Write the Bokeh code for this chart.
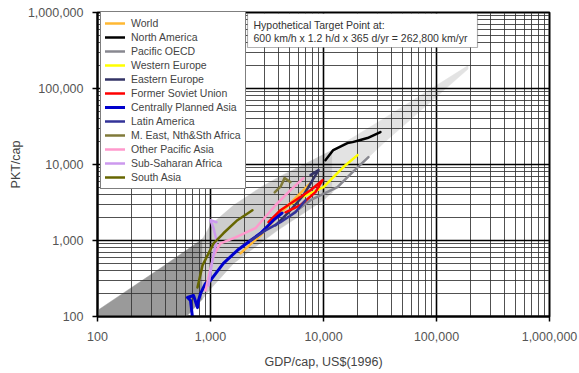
from bokeh.plotting import figure
from bokeh.models import (FixedTicker, NumeralTickFormatter, Legend, LegendItem,
                          BoxAnnotation, Label)
from bokeh.embed import file_html
from bokeh.resources import INLINE

# ---------------- data ----------------
decades = [100, 1000, 10000, 100000, 1000000]
minor_ticks = [m * d for d in decades[:-1] for m in range(2, 10)]

# shaded band (GDP/cap, upper PKT/cap, lower PKT/cap)
band_x = [100, 400, 850, 1000, 1600, 2770, 3920, 10000, 12000, 15000, 34000, 190000]
band_upper = [120, 480, 1050, 1600, 2900, 5000, 6700, 13500, 15500, 19000, 40000, 200000]
band_lower = [80, 50, 170, 230, 500, 925, 1360, 3390, 4300, 6100, 19100, 180000]
band_split = [850, 12000]
band_colors = ["#9a9a9a", "#cdcdcd", "#e3e3e3"]

series_names = ["World", "North America", "Pacific OECD", "Western Europe", "Eastern Europe",
                "Former Soviet Union", "Centrally Planned Asia", "Latin America",
                "M. East, Nth&Sth Africa", "Other Pacific Asia", "Sub-Saharan Africa", "South Asia"]
series_colors = ["#FFB833", "#000000", "#888890", "#FFFF00", "#333366", "#FF0000",
                 "#0000CC", "#333399", "#807A3A", "#FF99CC", "#CC99EE", "#666600"]

world_x = [1840, 2770, 4160, 5650, 7670]
world_y = [678, 1170, 2290, 3610, 5690]
nam_x = [10400, 12200, 16300, 18100, 21200, 24500, 31900]
nam_y = [11400, 15500, 19100, 19700, 21000, 22300, 26700]
poecd_x = [5100, 7670, 13300, 18100, 25000]
poecd_y = [2150, 3390, 5030, 7940, 12500]
weu_x = [3070, 4160, 6250, 10000, 15000, 20000]
weu_y = [1450, 2500, 3610, 5030, 9250, 13300]
eeu_x = [3760, 5100, 6650, 8000, 9040, 7670]
eeu_y = [1585, 2500, 3940, 6220, 8430, 7240]
fsu_x = [3260, 4160, 5650, 7670, 9800, 8490, 6250, 4610]
fsu_y = [1740, 2500, 3390, 4590, 6220, 4330, 2910, 2350]
cpa_x = [693, 665, 625, 708, 767, 783, 817, 903, 1000, 1300, 1730, 2260, 2770, 3610, 4300]
cpa_y = [97, 163, 178, 189, 131, 163, 201, 272, 298, 500, 743, 1000, 1245, 1850, 2300]
lam_x = [2260, 3070, 4160, 5650, 6930]
lam_y = [1000, 1360, 1740, 2350, 3390]
mea_x = [3700, 4200, 4520, 5100]
mea_y = [4300, 5200, 6620, 5860]
opa_x = [903, 1065, 1225, 1665, 2500, 3760, 5100, 6650]
opa_y = [220, 638, 918, 1100, 1450, 2910, 4590, 6620]
ssa_x = [960, 1040, 1130, 1065, 1000, 1130]
ssa_y = [256, 548, 1000, 1450, 1850, 1740]
sas_x = [767, 850, 1065, 1300, 1730, 2350]
sas_y = [241, 471, 918, 1245, 1850, 2500]

series_x = [world_x, nam_x, poecd_x, weu_x, eeu_x, fsu_x, cpa_x, lam_x, mea_x, opa_x, ssa_x, sas_x]
series_y = [world_y, nam_y, poecd_y, weu_y, eeu_y, fsu_y, cpa_y, lam_y, mea_y, opa_y, ssa_y, sas_y]
series_widths = [2.5, 2.5, 2.5, 2.5, 2.5, 2.5, 3, 2.5, 2.5, 2.5, 2.5, 2.5]

box_line1 = "Hypothetical Target Point at:"
box_line2 = "600 km/h x 1.2 h/d x 365 d/yr = 262,800 km/yr"

FONT = "Liberation Sans"

# ---------------- figure ----------------
p = figure(width=579, height=373, x_axis_type="log", y_axis_type="log",
           x_range=(100, 1000000), y_range=(100, 1000000),
           output_backend="svg", toolbar_location=None,
           min_border_left=97, min_border_right=30, min_border_top=12, min_border_bottom=57)
p.background_fill_color = "white"
p.border_fill_color = "white"
p.outline_line_color = "black"
p.outline_line_width = 2

xt = FixedTicker(ticks=decades, minor_ticks=minor_ticks)
yt = FixedTicker(ticks=decades, minor_ticks=minor_ticks)
p.xaxis.ticker = xt
p.yaxis.ticker = yt
p.xgrid.ticker = xt
p.ygrid.ticker = yt

for ax in (p.xaxis, p.yaxis):
    ax.formatter = NumeralTickFormatter(format="0,0")
    ax.axis_line_width = 2
    ax.axis_line_color = "black"
    ax.major_tick_line_width = 1.5
    ax.major_tick_out = 5
    ax.major_tick_in = 0
    ax.minor_tick_out = 0
    ax.minor_tick_in = 0
    ax.major_label_text_font = FONT
    ax.major_label_text_font_size = "12.5px"
    ax.major_label_text_color = "#555555"
    ax.axis_label_text_font = FONT
    ax.axis_label_text_font_size = "12.5px"
    ax.axis_label_text_font_style = "normal"
    ax.axis_label_text_color = "#444444"

p.xaxis.axis_label = "GDP/cap, US$(1996)"
p.yaxis.axis_label = "PKT/cap"
p.xaxis.major_label_standoff = 10
p.xaxis.axis_label_standoff = 11
p.yaxis.major_label_standoff = 9
p.yaxis.axis_label_standoff = 2

for g in (p.xgrid, p.ygrid):
    g.grid_line_color = "black"
    g.grid_line_width = 1.6
    g.minor_grid_line_color = "#333333"
    g.minor_grid_line_width = 1
    g.minor_grid_line_alpha = 0.85

# band
bounds = [band_x[0]] + band_split + [band_x[-1]]
for k, col in enumerate(band_colors):
    i0 = band_x.index(bounds[k])
    i1 = band_x.index(bounds[k + 1])
    xs = band_x[i0:i1 + 1] + band_x[i0:i1 + 1][::-1]
    ys = band_upper[i0:i1 + 1] + band_lower[i0:i1 + 1][::-1]
    p.patch(xs, ys, fill_color=col, line_color=col, line_width=0.5, level="image")

# series
items = []
for name, col, xs, ys, w in zip(series_names, series_colors, series_x, series_y, series_widths):
    r = p.line(xs, ys, line_color=col, line_width=w, line_join="round", line_cap="round")
    items.append(LegendItem(label=name, renderers=[r]))

legend = Legend(items=items, location=(3, 127), orientation="vertical",
                label_text_font=FONT, label_text_font_size="10.5px", label_text_color="#444444",
                label_height=14, glyph_height=14, glyph_width=20, spacing=0,
                padding=4, margin=0, label_standoff=6,
                border_line_color="black", border_line_width=1,
                background_fill_color="white", background_fill_alpha=1)
p.add_layout(legend)

box = BoxAnnotation(left=150, right=380, top=303, bottom=269,
                    left_units="screen", right_units="screen",
                    top_units="screen", bottom_units="screen",
                    fill_color="white", fill_alpha=1, line_color="black", line_width=1.2)
p.add_layout(box)
p.add_layout(Label(x=156, y=292, x_units="screen", y_units="screen", text=box_line1,
                   text_font=FONT, text_font_size="10.5px", text_color="#333333",
                   text_baseline="middle"))
p.add_layout(Label(x=156, y=279, x_units="screen", y_units="screen", text=box_line2,
                   text_font=FONT, text_font_size="10.5px", text_color="#333333",
                   text_baseline="middle"))

open("out.html", "w").write(file_html(p, INLINE))
